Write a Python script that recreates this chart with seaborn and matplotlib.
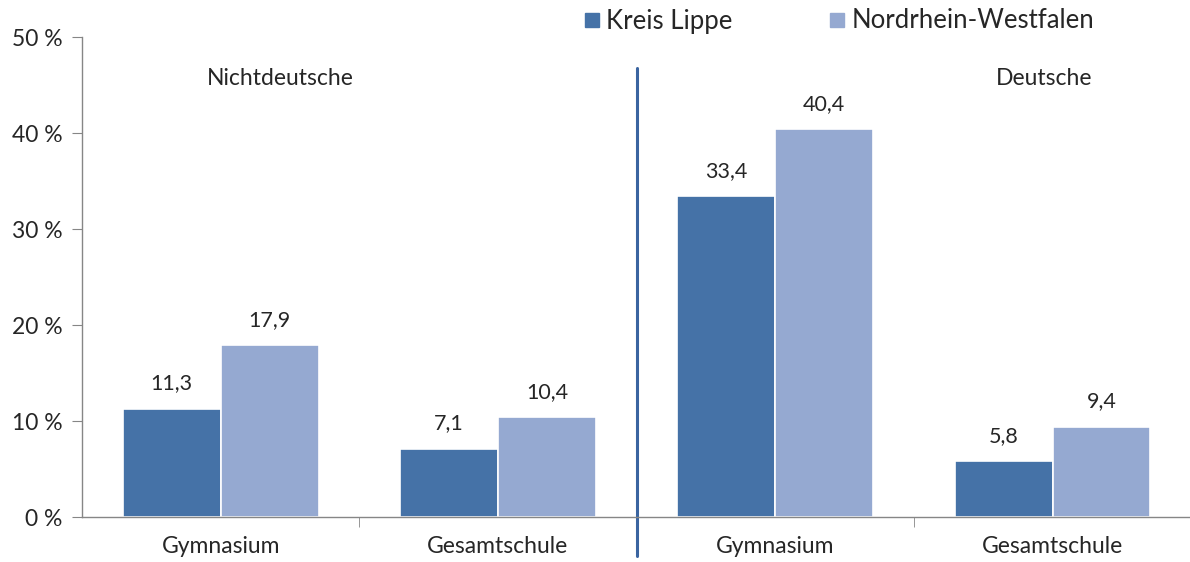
import matplotlib
matplotlib.use("Agg")
import matplotlib.pyplot as plt
import seaborn as sns
import pandas as pd
from matplotlib.lines import Line2D

categories = ["Gymnasium", "Gesamtschule", "Gymnasium ", "Gesamtschule "]
tick_labels = ["Gymnasium", "Gesamtschule", "Gymnasium", "Gesamtschule"]
series = ["Kreis Lippe", "Nordrhein-Westfalen"]
kreis_lippe = [11.3, 7.1, 33.4, 5.8]
nrw = [17.9, 10.4, 40.4, 9.4]
groups = ["Nichtdeutsche", "Deutsche"]
yticks = [0, 10, 20, 30, 40, 50]

colors = ["#4572A7", "#95A9D1"]

df = pd.DataFrame({
    "cat": categories * 2,
    "series": [series[0]] * 4 + [series[1]] * 4,
    "value": kreis_lippe + nrw,
})

sns.set_style("white")
plt.rcParams['font.family'] = ['Lato', 'DejaVu Sans']

fig = plt.figure(figsize=(11.9, 5.62), dpi=100)
ax = fig.add_axes([82 / 1190, 45 / 562, (1190 - 82) / 1190, 480 / 562])

sns.barplot(data=df, x="cat", y="value", hue="series", palette=colors,
            order=categories, hue_order=series, width=0.706, ax=ax,
            edgecolor="white", linewidth=1.2, legend=False, saturation=1)

ax.set_yticks(yticks)
ax.set_yticklabels([f"{v} %" for v in yticks], fontsize=16.5)
ax.set_xticks(range(4))
ax.set_xticklabels(tick_labels, fontsize=16.5)
ax.set_xticks([0.5, 1.5, 2.5], minor=True)
ax.set_xlabel("")
ax.set_ylabel("")
ax.set_ylim(0, 50)
ax.set_xlim(-0.5, (1190 - 81.25) / 277.5 - 0.5)

for s in ["top", "right"]:
    ax.spines[s].set_visible(False)
for s in ["left", "bottom"]:
    ax.spines[s].set_color("#868686")
    ax.spines[s].set_linewidth(1.0)

ax.tick_params(axis="y", which="major", left=True, length=7, color="#868686", pad=7)
ax.tick_params(axis="x", which="major", bottom=False, pad=10)
ax.tick_params(axis="x", which="minor", bottom=True, length=7, color="#868686")

for container in ax.containers:
    labels = [f"{b.get_height():.1f}".replace(".", ",") for b in container]
    ax.bar_label(container, labels=labels, padding=11, fontsize=15.5)

# group separator
ax.axvline(1.5, ymin=-0.081, ymax=0.935, color="#3A64A0", linewidth=2.2, clip_on=False)

ax.text(0.215, 45.7, groups[0], ha="center", va="center", fontsize=16.5)
ax.text(2.97, 45.7, groups[1], ha="center", va="center", fontsize=16.5)

handles = [Line2D([], [], marker="s", linestyle="", markersize=10,
                  markerfacecolor=c, markeredgecolor=c) for c in colors]
fig.legend(handles, series, loc="center left", bbox_to_anchor=(556 / 1190, 1 - 21 / 562),
           ncol=2, frameon=False, fontsize=18.5, handletextpad=0.05,
           columnspacing=3.57, handlelength=1.0)

fig.savefig("out.png", dpi=100)
